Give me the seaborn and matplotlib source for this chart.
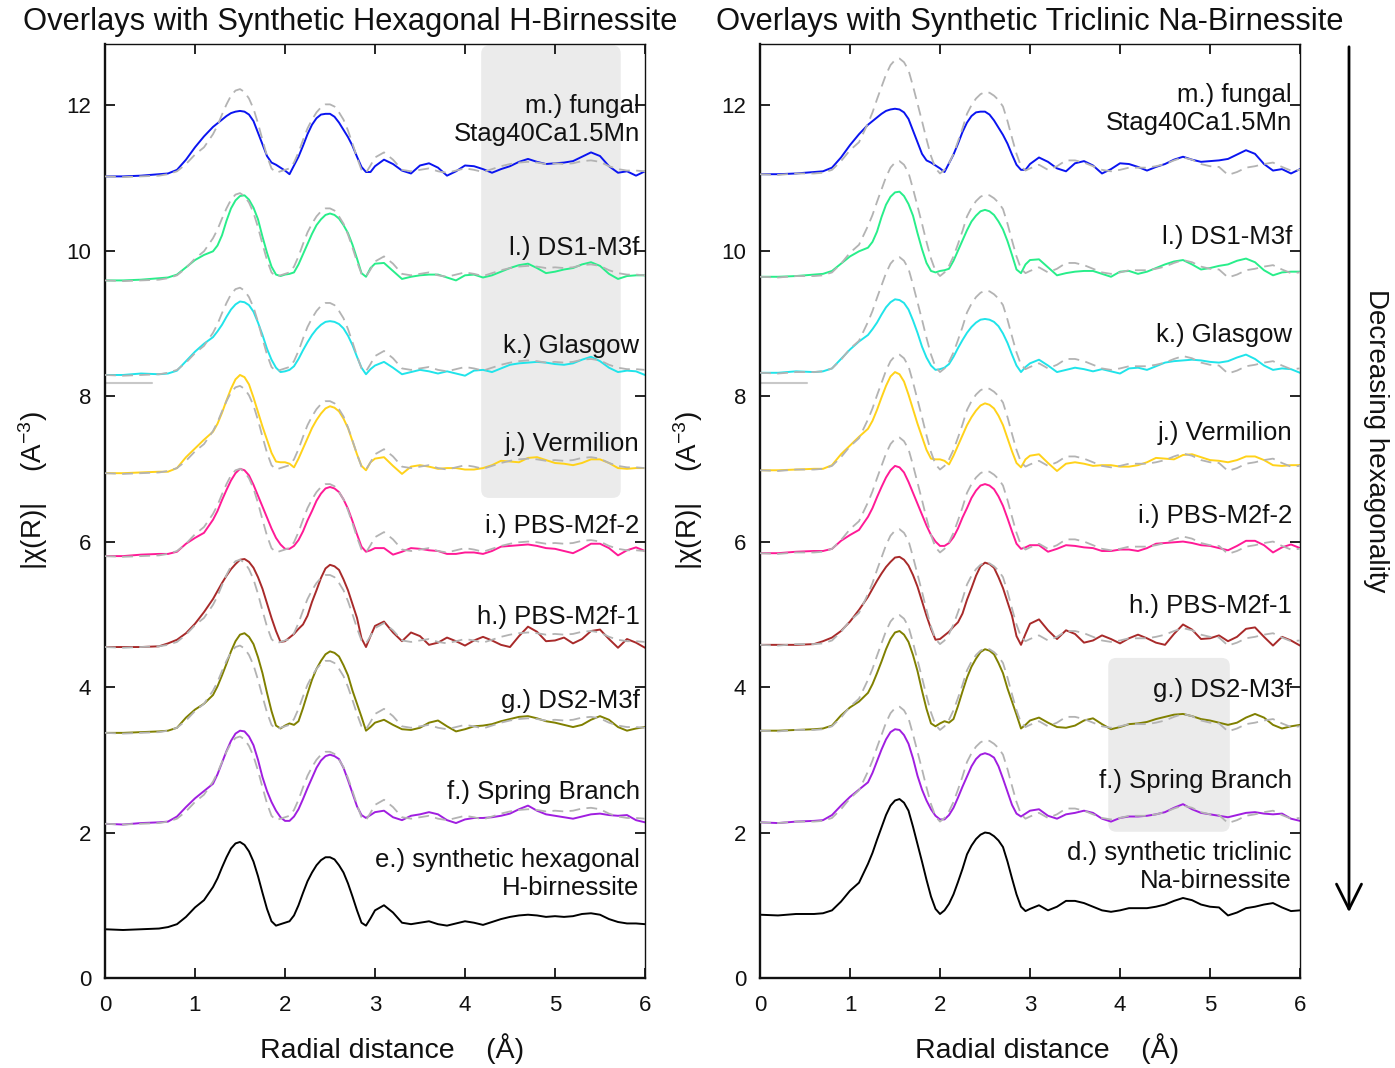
import numpy as np
import pandas as pd
import matplotlib
matplotlib.use("Agg")
import matplotlib.pyplot as plt
import seaborn as sns
from matplotlib.patches import FancyBboxPatch, FancyArrowPatch

# ---------------- data ----------------
# radial sample positions (Å)
R = np.concatenate([
    [0.0, 0.2, 0.4, 0.6, 0.7, 0.8, 0.9, 1.0, 1.1],
    np.round(np.arange(1.2, 3.0001, 0.05), 2),
    np.round(np.arange(3.1, 6.0001, 0.1), 2),
])

# synthetic hexagonal H-birnessite (absolute |chi(R)|)
HEX_REF = [0.67, 0.66, 0.67, 0.68, 0.70, 0.74, 0.84, 0.97, 1.07,
           1.25, 1.37, 1.52, 1.66, 1.78, 1.85, 1.87, 1.83, 1.74, 1.60,
           1.40, 1.17, 0.95, 0.78, 0.72, 0.74, 0.76, 0.78, 0.86, 1.00,
           1.17, 1.33, 1.45, 1.55, 1.62, 1.66, 1.66, 1.63, 1.55, 1.45,
           1.30, 1.12, 0.93, 0.76, 0.72, 0.82, 0.93,
           1.00, 0.90, 0.76, 0.74, 0.76, 0.78, 0.74, 0.72, 0.75, 0.78,
           0.76, 0.73, 0.77, 0.81, 0.84, 0.86, 0.87, 0.86, 0.84, 0.85,
           0.84, 0.85, 0.88, 0.89, 0.87, 0.81, 0.77, 0.75, 0.75, 0.74]
HEX_BASE = 0.67

# synthetic triclinic Na-birnessite (absolute |chi(R)|)
TRI_REF = [0.87, 0.86, 0.88, 0.88, 0.89, 0.93, 1.05, 1.20, 1.31,
           1.57, 1.72, 1.90, 2.07, 2.24, 2.37, 2.44, 2.46, 2.41, 2.30,
           2.08, 1.84, 1.60, 1.35, 1.12, 0.95, 0.88, 0.93, 1.02, 1.15,
           1.32, 1.50, 1.70, 1.82, 1.91, 1.97, 2.00, 1.99, 1.95, 1.89,
           1.80, 1.60, 1.37, 1.15, 0.98, 0.92, 0.95,
           1.00, 0.93, 0.98, 1.06, 1.06, 1.03, 0.98, 0.93, 0.91, 0.93,
           0.96, 0.96, 0.96, 0.98, 1.01, 1.06, 1.10, 1.07, 1.01, 0.98,
           0.97, 0.86, 0.90, 0.96, 0.98, 1.01, 1.03, 0.97, 0.92, 0.93]
TRI_BASE = 0.87

# natural samples, relative to their own baseline
M_FUNGAL = [0.0, 0.0, 0.01, 0.03, 0.04, 0.09, 0.23, 0.40, 0.55,
            0.68, 0.73, 0.78, 0.83, 0.87, 0.89, 0.90, 0.89, 0.85, 0.76,
            0.60, 0.44, 0.28, 0.19, 0.16, 0.12, 0.08, 0.03, 0.15, 0.27,
            0.42, 0.58, 0.71, 0.80, 0.85, 0.86, 0.86, 0.82, 0.74, 0.64,
            0.54, 0.42, 0.27, 0.13, 0.06, 0.06, 0.14,
            0.23, 0.17, 0.08, 0.04, 0.15, 0.18, 0.12, 0.01, 0.07, 0.15,
            0.14, 0.10, 0.05, 0.10, 0.14, 0.20, 0.24, 0.20, 0.17, 0.18,
            0.19, 0.21, 0.27, 0.33, 0.28, 0.14, 0.05, 0.07, 0.01, 0.07]
L_DS1 = [0.0, 0.0, 0.01, 0.03, 0.04, 0.08, 0.18, 0.28, 0.35,
         0.40, 0.48, 0.62, 0.82, 0.99, 1.10, 1.16, 1.17, 1.11, 1.00,
         0.84, 0.60, 0.38, 0.19, 0.08, 0.06, 0.08, 0.09, 0.11, 0.22,
         0.36, 0.50, 0.64, 0.76, 0.84, 0.90, 0.92, 0.90, 0.85, 0.76,
         0.65, 0.49, 0.30, 0.10, 0.05, 0.17, 0.23,
         0.24, 0.13, 0.02, 0.05, 0.07, 0.08, 0.08, 0.04, 0.00, 0.07,
         0.08, 0.04, 0.07, 0.12, 0.17, 0.21, 0.23, 0.17, 0.10, 0.12,
         0.15, 0.17, 0.22, 0.25, 0.20, 0.09, 0.02, 0.06, 0.07, 0.07]
K_GLASGOW = [0.0, 0.0, 0.02, 0.01, 0.02, 0.06, 0.19, 0.32, 0.43,
             0.52, 0.60, 0.69, 0.80, 0.90, 0.97, 1.01, 1.00, 0.96, 0.87,
             0.72, 0.55, 0.36, 0.21, 0.10, 0.04, 0.05, 0.07, 0.12, 0.22,
             0.34, 0.45, 0.55, 0.63, 0.69, 0.73, 0.74, 0.73, 0.70, 0.64,
             0.54, 0.41, 0.25, 0.10, 0.01, 0.08, 0.13,
             0.18, 0.10, 0.01, 0.04, 0.07, 0.05, 0.02, 0.05, 0.02, -0.01,
             0.06, 0.07, 0.04, 0.09, 0.14, 0.16, 0.17, 0.18, 0.17, 0.15,
             0.14, 0.16, 0.21, 0.25, 0.19, 0.10, 0.04, 0.06, 0.05, 0.00]
J_VERMILION = [0.0, 0.0, 0.01, 0.02, 0.02, 0.07, 0.22, 0.34, 0.46,
               0.57, 0.68, 0.83, 1.00, 1.16, 1.29, 1.35, 1.32, 1.22, 1.04,
               0.84, 0.64, 0.46, 0.28, 0.16, 0.15, 0.15, 0.13, 0.08, 0.20,
               0.34, 0.48, 0.62, 0.73, 0.82, 0.89, 0.92, 0.90, 0.85, 0.75,
               0.62, 0.44, 0.26, 0.10, 0.04, 0.15, 0.20,
               0.22, 0.10, -0.01, 0.09, 0.11, 0.09, 0.06, 0.07, 0.07, 0.05,
               0.05, 0.07, 0.11, 0.17, 0.16, 0.15, 0.21, 0.22, 0.18, 0.14,
               0.13, 0.11, 0.14, 0.19, 0.19, 0.14, 0.07, 0.06, 0.07, 0.07]
I_PBS2 = [0.0, 0.0, 0.02, 0.03, 0.03, 0.06, 0.17, 0.25, 0.32,
          0.50, 0.62, 0.77, 0.91, 1.04, 1.14, 1.20, 1.18, 1.11, 0.98,
          0.83, 0.68, 0.53, 0.38, 0.25, 0.16, 0.10, 0.10, 0.14, 0.22,
          0.34, 0.49, 0.62, 0.76, 0.86, 0.93, 0.95, 0.93, 0.88, 0.78,
          0.65, 0.48, 0.30, 0.13, 0.06, 0.08, 0.11,
          0.11, 0.02, 0.06, 0.11, 0.10, 0.08, 0.07, 0.03, 0.03, 0.05,
          0.05, 0.03, 0.07, 0.13, 0.14, 0.15, 0.16, 0.14, 0.11, 0.10,
          0.07, 0.04, 0.10, 0.17, 0.17, 0.11, 0.01, 0.08, 0.12, 0.07]
H_PBS1 = [0.0, 0.0, 0.0, 0.01, 0.05, 0.10, 0.19, 0.32, 0.48,
          0.66, 0.77, 0.88, 0.98, 1.07, 1.14, 1.20, 1.21, 1.17, 1.09,
          0.96, 0.80, 0.60, 0.40, 0.22, 0.07, 0.08, 0.13, 0.18, 0.25,
          0.31, 0.43, 0.62, 0.78, 0.95, 1.08, 1.13, 1.11, 1.06, 0.93,
          0.78, 0.59, 0.40, 0.12, 0.00, 0.15, 0.29,
          0.35, 0.20, 0.08, 0.20, 0.15, 0.03, 0.06, 0.13, 0.08, 0.02,
          0.09, 0.14, 0.09, 0.03, 0.00, 0.15, 0.28, 0.21, 0.08, 0.09,
          0.13, 0.05, 0.11, 0.22, 0.24, 0.11, -0.01, 0.11, 0.06, -0.01]
G_DS2 = [0.0, 0.0, 0.01, 0.02, 0.03, 0.07, 0.21, 0.32, 0.40,
         0.52, 0.64, 0.79, 0.95, 1.12, 1.26, 1.35, 1.37, 1.32, 1.22,
         1.04, 0.82, 0.55, 0.30, 0.10, 0.06, 0.10, 0.13, 0.11, 0.16,
         0.34, 0.54, 0.73, 0.88, 0.99, 1.08, 1.12, 1.10, 1.05, 0.93,
         0.79, 0.58, 0.40, 0.22, 0.03, 0.08, 0.14,
         0.18, 0.11, 0.05, 0.04, 0.07, 0.14, 0.17, 0.09, 0.02, 0.05,
         0.09, 0.10, 0.12, 0.16, 0.19, 0.22, 0.23, 0.20, 0.16, 0.14,
         0.11, 0.08, 0.11, 0.18, 0.23, 0.18, 0.08, 0.03, 0.06, 0.08]
F_SPRING = [0.0, -0.01, 0.01, 0.02, 0.03, 0.10, 0.23, 0.35, 0.45,
            0.55, 0.68, 0.84, 1.00, 1.14, 1.24, 1.28, 1.27, 1.20, 1.08,
            0.88, 0.64, 0.45, 0.30, 0.18, 0.09, 0.04, 0.04, 0.10, 0.20,
            0.34, 0.49, 0.63, 0.77, 0.87, 0.93, 0.95, 0.93, 0.89, 0.77,
            0.60, 0.42, 0.24, 0.12, 0.08, 0.12, 0.16,
            0.18, 0.09, 0.05, 0.11, 0.13, 0.16, 0.13, 0.05, 0.01, 0.06,
            0.08, 0.08, 0.09, 0.11, 0.14, 0.20, 0.25, 0.18, 0.13, 0.11,
            0.09, 0.07, 0.10, 0.13, 0.14, 0.12, 0.11, 0.12, 0.05, 0.02]

SAMPLE_NAMES = ["m", "l", "k", "j", "i", "h", "g", "f"]
SAMPLE_CURVES = [M_FUNGAL, L_DS1, K_GLASGOW, J_VERMILION, I_PBS2, H_PBS1, G_DS2, F_SPRING]
OFFSETS_HEX = [11.02, 9.59, 8.29, 6.94, 5.80, 4.55, 3.37, 2.12]
OFFSETS_TRI = [11.05, 9.64, 8.32, 6.98, 5.84, 4.58, 3.40, 2.14]
COLORS = ["#0a14f0", "#28ee8a", "#20e4ea", "#ffd21a", "#ff1a96", "#a82a2a", "#808000", "#a01ee0"]

LABELS_HEX = ["m.) fungal\nStag40Ca1.5Mn", "l.) DS1-M3f", "k.) Glasgow", "j.) Vermilion",
              "i.) PBS-M2f-2", "h.) PBS-M2f-1", "g.) DS2-M3f", "f.) Spring Branch",
              "e.) synthetic hexagonal\nH-birnessite"]
LABELS_TRI = ["m.) fungal\nStag40Ca1.5Mn", "l.) DS1-M3f", "k.) Glasgow", "j.) Vermilion",
              "i.) PBS-M2f-2", "h.) PBS-M2f-1", "g.) DS2-M3f", "f.) Spring Branch",
              "d.) synthetic triclinic\nNa-birnessite"]

for arr in SAMPLE_CURVES + [HEX_REF, TRI_REF]:
    assert len(arr) == len(R), len(arr)

# ---------------- layout ----------------
LABEL_Y_HEX = [11.80, 10.03, 8.69, 7.34, 6.21, 4.96, 3.81, 2.56, 1.43]
LABEL_Y_TRI = [11.95, 10.19, 8.84, 7.49, 6.35, 5.11, 3.96, 2.71, 1.53]
SHADE_HEX = (4.18, 6.60, 5.73, 12.82)   # x0, y0, x1, y1
SHADE_TRI = (3.87, 2.01, 5.22, 4.40)
SEG_X = [0.0, 0.52]
SEG_Y = [8.18, 8.18]
YMAX = 12.84

sns.set_theme(style="ticks")
plt.rcParams["font.family"] = ["Liberation Sans", "DejaVu Sans"]
plt.rcParams["mathtext.fontset"] = "custom"
plt.rcParams["mathtext.rm"] = "Liberation Sans"
plt.rcParams["mathtext.it"] = "Liberation Sans:italic"

fig = plt.figure(figsize=(13.95, 10.68), dpi=100)
W, H = 1395.0, 1068.0
ax_l = fig.add_axes([105 / W, 1 - 978 / H, 540 / W, 934 / H])
ax_r = fig.add_axes([760 / W, 1 - 978 / H, 540 / W, 934 / H])


def build(offsets, ref, ref_base):
    rows, drows = [], []
    for name, curve, off in zip(SAMPLE_NAMES, SAMPLE_CURVES, offsets):
        for r, v, rv in zip(R, curve, ref):
            rows.append((r, v + off, name))
            drows.append((r, rv - ref_base + off, name))
    return (pd.DataFrame(rows, columns=["r", "y", "name"]),
            pd.DataFrame(drows, columns=["r", "y", "name"]))


palette = dict(zip(SAMPLE_NAMES, COLORS))

for ax, offsets, ref, base, shade, labels, label_y, lab_x in [
    (ax_l, OFFSETS_HEX, HEX_REF, HEX_BASE, SHADE_HEX, LABELS_HEX, LABEL_Y_HEX, 5.94),
    (ax_r, OFFSETS_TRI, TRI_REF, TRI_BASE, SHADE_TRI, LABELS_TRI, LABEL_Y_TRI, 5.91),
]:
    df, ddf = build(offsets, ref, base)
    x0, y0, x1, y1 = shade
    patch = FancyBboxPatch((x0, y0), x1 - x0, y1 - y0,
                           boxstyle="round,pad=0,rounding_size=0.09",
                           mutation_aspect=90 / 72.75,
                           fc="#ebebeb", ec="none", zorder=0.5)
    ax.add_patch(patch)

    sns.lineplot(data=df, x="r", y="y", hue="name", palette=palette,
                 estimator=None, sort=False, legend=False, lw=1.4, ax=ax, zorder=2)
    sns.lineplot(data=ddf, x="r", y="y", units="name", estimator=None, sort=False,
                 color="#b3b3b3", lw=1.3, linestyle=(0, (6, 3.5)), ax=ax, zorder=3)
    sns.lineplot(x=R, y=np.array(ref), color="black", lw=1.4, estimator=None,
                 sort=False, ax=ax, zorder=2)
    sns.lineplot(x=SEG_X, y=SEG_Y, color="#c8c8c8", lw=1.5, ax=ax, zorder=1)

    for lab, ly in zip(labels, label_y):
        ax.text(lab_x, ly, lab, ha="right", va="center", fontsize=18.5,
                color="#111111", zorder=5, linespacing=1.2)

    ax.set_xlim(0, 6)
    ax.set_ylim(0, YMAX)
    ax.set_xticks(range(0, 7))
    ax.set_yticks(range(0, 13, 2))
    ax.tick_params(axis="both", direction="in", top=True, right=True,
                   length=7, width=1.2, labelsize=16, color="black", labelcolor="#111111")
    ax.tick_params(axis="x", pad=12)
    ax.tick_params(axis="y", pad=10)
    for side in ["left", "bottom"]:
        ax.spines[side].set_linewidth(1.7)
        ax.spines[side].set_color("#111111")
    for side in ["top", "right"]:
        ax.spines[side].set_linewidth(1.0)
        ax.spines[side].set_color("#111111")
        ax.spines[side].set_visible(True)
    ax.set_xlabel("Radial distance    (Å)", fontsize=20.5, va="center", color="#111111")
    ax.set_ylabel("|χ(R)|    (A$^{-3}$)", fontsize=20, va="center", color="#111111")
    ax.yaxis.set_label_coords(-0.133, 0.522)
    ax.grid(False)

ax_l.xaxis.set_label_coords((392 - 105) / 540, -0.076)
ax_r.xaxis.set_label_coords((1047 - 760) / 540, -0.076)

fig.text(350 / W, 1 - 22 / H, "Overlays with Synthetic Hexagonal H-Birnessite",
         ha="center", va="center", fontsize=22.2, color="#111111")
fig.text(1030 / W, 1 - 22 / H, "Overlays with Synthetic Triclinic Na-Birnessite",
         ha="center", va="center", fontsize=22.2, color="#111111")

arrow = FancyArrowPatch((1349 / W, 1 - 44 / H), (1349 / W, 1 - 915 / H),
                        transform=fig.transFigure,
                        arrowstyle="->,head_length=0.9,head_width=0.45",
                        mutation_scale=20, lw=2.0, color="black")
fig.add_artist(arrow)
fig.text(1376 / W, 1 - 441 / H, "Decreasing hexagonality", rotation=-90,
         ha="center", va="center", fontsize=20, color="#111111")

fig.savefig("out.png", dpi=100, facecolor="white")
